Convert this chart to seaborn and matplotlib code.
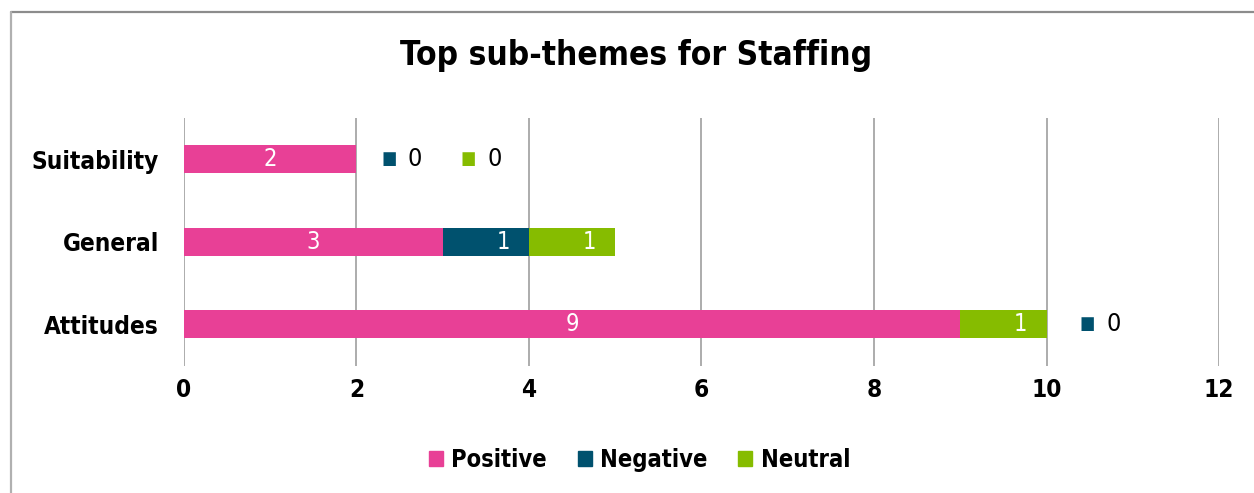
import matplotlib
matplotlib.use("Agg")
import matplotlib.pyplot as plt
from matplotlib.lines import Line2D
import numpy as np
import pandas as pd
import seaborn as sns

categories = ["Suitability", "General", "Attitudes"]
positive = [2, 3, 9]
negative = [0, 1, 0]
neutral = [0, 1, 1]
series_names = ["Positive", "Negative", "Neutral"]
colors = {"Positive": "#E84096", "Negative": "#00516E", "Neutral": "#86BC00"}
xticks = [0, 2, 4, 6, 8, 10, 12]

sns.set_theme(style="white")
plt.rcParams["font.family"] = ["DejaVu Sans"]
plt.rcParams["text.color"] = "black"
FONT = dict(family="DejaVu Sans", stretch="condensed")

df = pd.DataFrame({"category": categories, "Positive": positive,
                   "Negative": negative, "Neutral": neutral})
cum = df[series_names].cumsum(axis=1)

fig = plt.figure(figsize=(12.54, 4.93), dpi=100)
ax = fig.add_axes([0.1467, 0.2586, 0.8254, 0.502])

# stacked bars: draw cumulative totals from the outermost segment inward
for name in reversed(series_names):
    sns.barplot(x=cum[name], y=df["category"], color=colors[name], width=0.34,
                orient="h", ax=ax, saturation=1, linewidth=0, legend=False)

ax.set_xlim(0, 12)
ax.set_xticks(xticks)
ax.set_xlabel("")
ax.set_ylabel("")
ax.grid(axis="x", color="#A6A6A6", linewidth=1.3)
ax.grid(axis="y", visible=False)
ax.set_axisbelow(True)
for s in ax.spines.values():
    s.set_visible(False)
ax.tick_params(axis="both", length=0)
ax.tick_params(axis="x", pad=9)
ax.tick_params(axis="y", pad=18)
for lbl in ax.get_xticklabels() + ax.get_yticklabels():
    lbl.set_fontweight("bold")
    lbl.set_fontsize(17.5)
    lbl.set_fontstretch("condensed")
    lbl.set_color("black")

# value labels
for i, cat in enumerate(categories):
    left = 0
    zero_count = 0
    total = sum(df.loc[i, n] for n in series_names)
    for name in series_names:
        v = df.loc[i, name]
        if v > 0:
            shift = 0.2 if v == 1 else 0
            ax.text(left + v / 2 + shift, i, str(v), color="white", ha="center",
                    va="center", fontsize=17, **FONT)
        else:
            off = 18 + 57 * zero_count + (6 if total >= 10 else 0)
            ax.annotate("■", xy=(total, i), xytext=(off, 0),
                        textcoords="offset points", color=colors[name],
                        ha="left", va="center", fontsize=13, **FONT)
            ax.annotate(str(v), xy=(total, i), xytext=(off + 19, 0),
                        textcoords="offset points", color="black",
                        ha="left", va="center", fontsize=18, **FONT)
            zero_count += 1
        left += v

fig.suptitle("Top sub-themes for Staffing", x=0.507, y=0.92, fontsize=24,
             fontweight="bold", color="black", **FONT)

handles = [plt.Rectangle((0, 0), 1, 1, color=colors[n]) for n in series_names]
leg = fig.legend(handles, series_names, loc="center", bbox_to_anchor=(0.51, 0.067),
                 ncol=3, frameon=False, handlelength=0.6, handleheight=0.6,
                 handletextpad=0.35, columnspacing=1.3,
                 prop=dict(weight="bold", size=17, family="DejaVu Sans", stretch="condensed"))
for t in leg.get_texts():
    t.set_color("black")

# chart area border
fig.add_artist(Line2D([10.5 / 1254, 1.0], [1 - 11.5 / 493, 1 - 11.5 / 493],
                      transform=fig.transFigure, color="#8C8C8C", linewidth=1.6))
fig.add_artist(Line2D([10.5 / 1254, 10.5 / 1254], [0, 1 - 11.5 / 493],
                      transform=fig.transFigure, color="#B0B0B0", linewidth=1.6))

fig.savefig("out.png", dpi=100)
